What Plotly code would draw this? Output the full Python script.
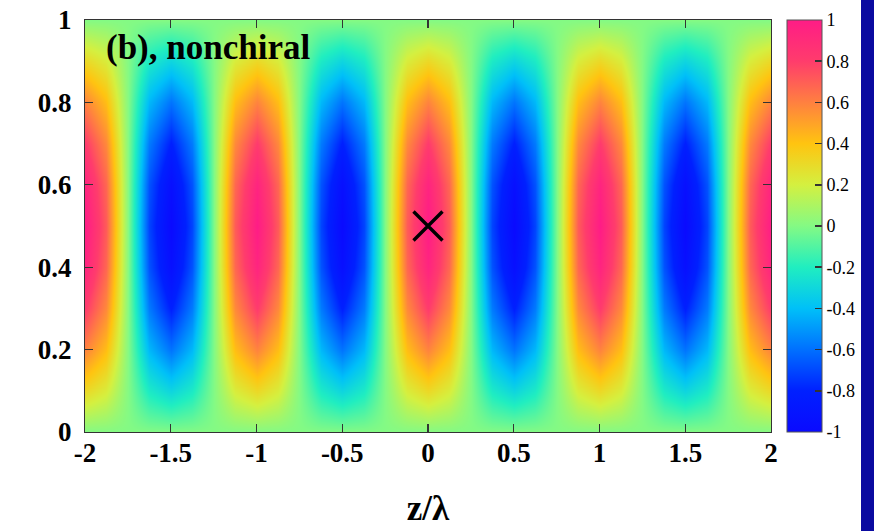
import plotly.graph_objects as go

# ---- data ----
z_pos = [-2, -1.875, -1.75, -1.625, -1.5, -1.375, -1.25, -1.125, -1,
         -0.875, -0.75, -0.625, -0.5, -0.375, -0.25, -0.125, 0,
         0.125, 0.25, 0.375, 0.5, 0.625, 0.75, 0.875, 1,
         1.125, 1.25, 1.375, 1.5, 1.625, 1.75, 1.875, 2]
z_profile = [1, 0.71, 0, -0.71, -1, -0.71, 0, 0.71, 1,
             0.71, 0, -0.71, -1, -0.71, 0, 0.71, 1,
             0.71, 0, -0.71, -1, -0.71, 0, 0.71, 1,
             0.71, 0, -0.71, -1, -0.71, 0, 0.71, 1]
y_pos = [0, 0.1, 0.2, 0.3, 0.4, 0.5, 0.6, 0.7, 0.8, 0.9, 1.0]
y_profile = [0, 0.31, 0.59, 0.81, 0.95, 1.0, 0.95, 0.81, 0.59, 0.31, 0]
field = [[yp * zp for zp in z_profile] for yp in y_profile]

marker_z = [0]
marker_y = [0.5]

x_tick_vals = [-2, -1.5, -1, -0.5, 0, 0.5, 1, 1.5, 2]
x_tick_text = ["-2", "-1.5", "-1", "-0.5", "0", "0.5", "1", "1.5", "2"]
y_tick_vals = [0, 0.2, 0.4, 0.6, 0.8, 1]
y_tick_text = ["0", "0.2", "0.4", "0.6", "0.8", "1"]
cb_tick_vals = [-1, -0.8, -0.6, -0.4, -0.2, 0, 0.2, 0.4, 0.6, 0.8, 1]
cb_tick_text = ["-1", "-0.8", "-0.6", "-0.4", "-0.2", "0", "0.2", "0.4", "0.6", "0.8", "1"]

colorscale = [
    [0.0, "#0a0aff"],
    [0.1, "#0020ff"],
    [0.2, "#0070ff"],
    [0.3, "#00c0f8"],
    [0.4, "#20eec0"],
    [0.5, "#84fa84"],
    [0.6, "#d4f040"],
    [0.7, "#ffc410"],
    [0.8, "#ff8040"],
    [0.9, "#ff3c6c"],
    [1.0, "#ff1c86"],
]

SERIF = "Liberation Serif"

PL, PR, PT, PB = 85, 771, 20, 432
PW, PH = PR - PL, PB - PT

fig = go.Figure()
fig.add_trace(go.Heatmap(
    x=z_pos, y=y_pos, z=field, zmin=-1, zmax=1, zsmooth="best",
    colorscale=colorscale,
    colorbar=dict(
        x=(787 - PL) / PW, xanchor="left", xpad=0, y=0.5, yanchor="middle", len=1.0,
        lenmode="fraction", thickness=35, thicknessmode="pixels",
        outlinewidth=1, outlinecolor="#555555",
        tickmode="array", tickvals=cb_tick_vals, ticktext=cb_tick_text,
        ticks="inside", ticklen=7, tickwidth=1.5, tickcolor="#333333",
        tickfont=dict(family=SERIF, size=18, color="black"),
        ypad=0,
    ),
    hoverinfo="skip",
))
fig.add_trace(go.Scatter(
    x=marker_z, y=marker_y, mode="markers",
    marker=dict(symbol="x-thin", size=29, line=dict(width=3.4, color="black"), color="black"),
    showlegend=False, hoverinfo="skip",
))

# left-side colorbar tick marks (mirror of inside ticks)
cb_x0 = (787 - PL) / PW
for v in cb_tick_vals[1:-1]:
    yp = (v + 1) / 2
    fig.add_shape(type="line", xref="paper", yref="paper",
                  x0=cb_x0, x1=cb_x0 + 7 / PW, y0=yp, y1=yp,
                  line=dict(color="#333333", width=1.5))

# dark blue stripe at right edge (slide background)
fig.add_shape(type="rect", xref="paper", yref="paper",
              x0=(861 - PL) / PW, x1=(890 - PL) / PW,
              y0=-(531 - PB) / PH - 0.05, y1=1 + PT / PH + 0.05,
              fillcolor="#0a0aa0", line=dict(width=0), layer="below")

fig.add_annotation(
    text="(b), nonchiral", xref="paper", yref="paper",
    x=(104 - PL) / PW, y=1 - (48 - PT) / PH, xanchor="left", yanchor="middle",
    showarrow=False, font=dict(family=SERIF, size=35, color="black", weight="bold"),
)

axis_common = dict(
    showline=True, linecolor="#333333", linewidth=1, mirror="ticks",
    ticks="inside", ticklen=8, tickwidth=1.2, tickcolor="#333333",
    showgrid=False, zeroline=False, automargin=False,
    tickfont=dict(family=SERIF, size=27, color="black", weight="bold"),
)

fig.update_layout(
    template="none",
    width=874, height=531,
    margin=dict(l=PL, r=874 - PR, t=PT, b=531 - PB, autoexpand=False),
    paper_bgcolor="white", plot_bgcolor="white",
    showlegend=False,
    xaxis=dict(range=[-2, 2], tickmode="array", tickvals=x_tick_vals, ticktext=x_tick_text,
               ticklabelstandoff=-3,
               title=dict(text="z/λ", font=dict(family=SERIF, size=35, color="black", weight="bold"),
                          standoff=28),
               **axis_common),
    yaxis=dict(range=[0, 1], tickmode="array", tickvals=y_tick_vals, ticktext=y_tick_text,
               ticklabelstandoff=7, **axis_common),
)

fig.write_html("out.html",
               config={"displayModeBar": False, "staticPlot": True},
               post_script="document.body.style.margin='0';document.body.style.padding='0';")
